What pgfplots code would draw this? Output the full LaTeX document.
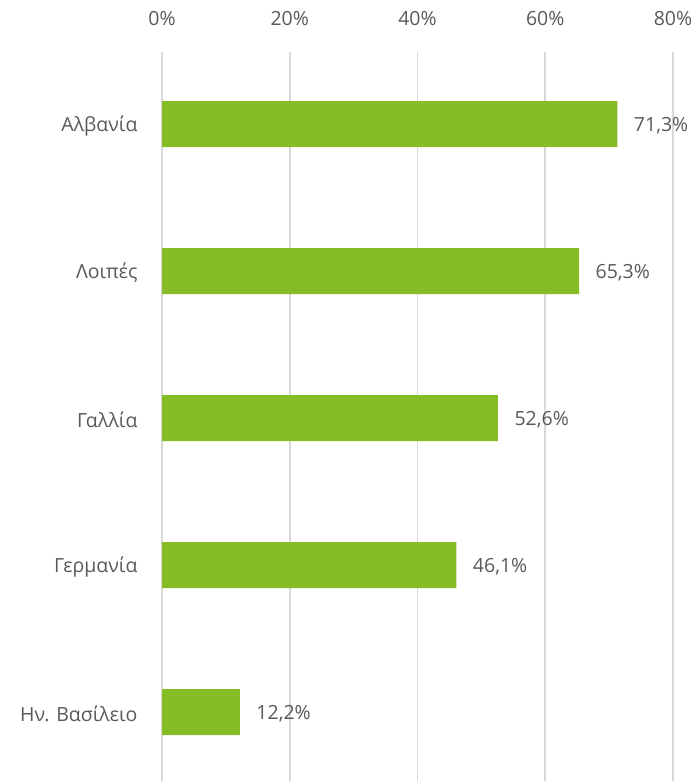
\documentclass[border=0pt]{standalone}
\usepackage{fontspec}
\setmainfont{Open Sans}
\usepackage{pgfplots}
\pgfplotsset{compat=1.18}
\definecolor{bargreen}{RGB}{134,188,37}
\definecolor{txtgray}{RGB}{89,89,89}
\definecolor{gridgray}{RGB}{217,217,217}
\begin{document}
\begin{tikzpicture}[x=1bp,y=1bp]
\path[use as bounding box] (0,0) rectangle (696,-781);
\begin{axis}[
  at={(162bp,-52bp)}, anchor=north west,
  scale only axis,
  width=511bp, height=729bp,
  xbar, bar width=0.313,
  xmin=0, xmax=80,
  ymin=-0.469, ymax=4.49,
  xtick={0,20,40,60,80},
  xticklabel={\pgfmathprintnumber{\tick}\%},
  xticklabel pos=upper,
  ytick={0,1,2,3,4},
  yticklabels={Ην. Βασίλειο,Γερμανία,Γαλλία,Λοιπές,Αλβανία},
  axis line style={draw=none},
  major tick length=0pt,
  xmajorgrids,
  major grid style={gridgray, line width=1.6bp},
  tick label style={font=\fontsize{19.5bp}{22bp}\selectfont, text=txtgray},
  xticklabel style={yshift=23bp},
  yticklabel style={xshift=-21bp, yshift=-2bp},
  /pgf/number format/assume math mode=true,
  nodes near coords={\pgfmathprintnumber[fixed,fixed zerofill,precision=1,use comma]{\pgfplotspointmeta}\%},
  nodes near coords style={font=\fontsize{19.5bp}{22bp}\selectfont, text=txtgray, anchor=west, xshift=13bp, yshift=-2bp},
  point meta=x,
]
\addplot[fill=bargreen, draw=none] coordinates {(12.2,0) (46.1,1) (52.6,2) (65.3,3) (71.3,4)};
\end{axis}
\end{tikzpicture}
\end{document}
